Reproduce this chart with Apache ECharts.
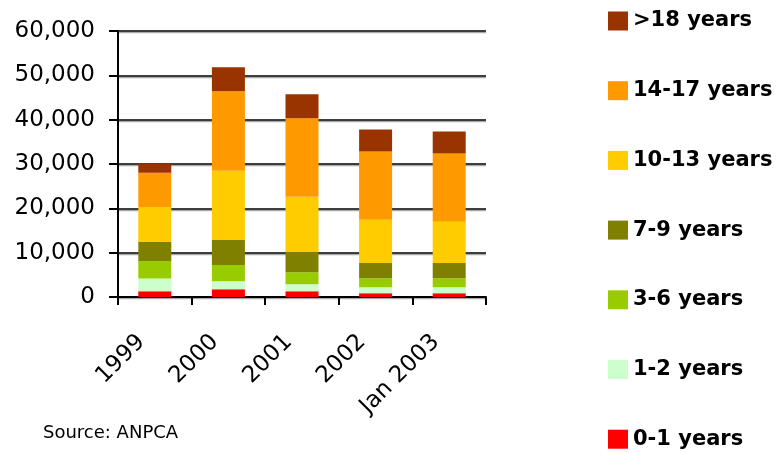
<!DOCTYPE html>
<html>
<head>
<meta charset="utf-8">
<script src="https://cdn.jsdelivr.net/npm/echarts@6/dist/echarts.min.js"></script>
<style>
html,body{margin:0;padding:0;background:#fff;}
#chart{width:778px;height:453px;}
</style>
</head>
<body>
<div id="chart"></div>
<script>
var categories = ['1999', '2000', '2001', '2002', 'Jan 2003'];
var yTicks = [0, 10000, 20000, 30000, 40000, 50000, 60000];

var age0_1   = [1300, 1750, 1300, 850, 850];
var age1_2   = [2900, 1800, 1600, 1350, 1350];
var age3_6   = [3900, 3650, 2700, 2050, 2050];
var age7_9   = [4300, 5650, 4550, 3400, 3400];
var age10_13 = [7900, 15650, 12450, 9750, 9300];
var age14_17 = [7700, 17900, 17700, 15400, 15400];
var age18    = [2100, 5450, 5450, 5000, 5000];

var seriesNames = ['0-1 years', '1-2 years', '3-6 years', '7-9 years', '10-13 years', '14-17 years', '>18 years'];
var seriesData = [age0_1, age1_2, age3_6, age7_9, age10_13, age14_17, age18];
var seriesColors = ['#FF0000', '#CCFFCC', '#99CC00', '#808000', '#FFCC00', '#FF9900', '#993300'];

var FONT = 'DejaVu Sans';

function fmt(v) {
  return String(v).replace(/\B(?=(\d{3})+(?!\d))/g, ',');
}

var chart = echarts.init(document.getElementById('chart'), null, {renderer: 'canvas'});

var series = seriesNames.map(function (name, i) {
  return {
    name: name,
    type: 'bar',
    stack: 'total',
    data: seriesData[i],
    barWidth: 33,
    itemStyle: {color: seriesColors[i]},
    emphasis: {disabled: true}
  };
});

chart.setOption({
  animation: false,
  backgroundColor: '#fff',
  grid: {left: 118, right: 292, top: 31, bottom: 156, containLabel: false},
  legend: {
    type: 'plain',
    orient: 'vertical',
    left: 608,
    top: 10.5,
    padding: 0,
    itemWidth: 20,
    itemHeight: 19,
    itemGap: 48.7,
    icon: 'rect',
    data: seriesNames.slice().reverse(),
    textStyle: {fontFamily: FONT, fontWeight: 'bold', fontSize: 21, color: '#000', lineHeight: 20}
  },
  xAxis: {
    type: 'category',
    data: categories,
    boundaryGap: true,
    axisLine: {lineStyle: {color: '#000', width: 2}},
    axisTick: {show: true, length: 8, lineStyle: {color: '#000', width: 2}},
    axisLabel: {
      rotate: 45,
      margin: 28,
      padding: [0, 19, 0, 0],
      fontFamily: FONT,
      fontSize: 23,
      color: '#000'
    },
    splitLine: {show: false}
  },
  yAxis: {
    type: 'value',
    min: yTicks[0],
    max: yTicks[yTicks.length - 1],
    interval: yTicks[1] - yTicks[0],
    axisLine: {show: true, lineStyle: {color: '#000', width: 2}},
    axisTick: {show: true, length: 9, lineStyle: {color: '#000', width: 2}},
    axisLabel: {
      margin: 23,
      fontFamily: FONT,
      fontSize: 23,
      color: '#000',
      formatter: function (v) { return fmt(v); }
    },
    splitLine: {
      show: true,
      lineStyle: {color: '#000', width: 1.5, shadowColor: '#aaa', shadowOffsetY: 1.5, shadowBlur: 0}
    }
  },
  graphic: [{
    type: 'text',
    left: 43,
    top: 424,
    style: {text: 'Source: ANPCA', font: '18px "DejaVu Sans"', fill: '#000'}
  }],
  series: series
});
</script>
</body>
</html>
